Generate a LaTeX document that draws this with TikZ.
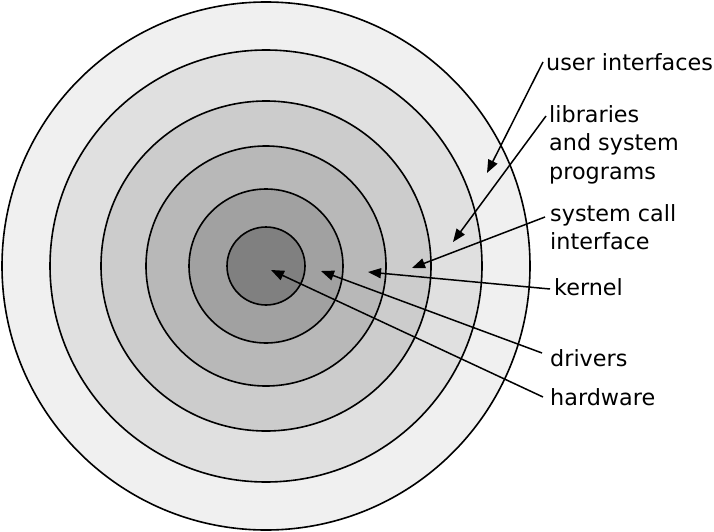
\documentclass[tikz,border=0pt]{standalone}
\usepackage{fontspec}
\setmainfont{DejaVu Sans}
\usetikzlibrary{arrows.meta}

\definecolor{ringA}{gray}{0.94}
\definecolor{ringB}{gray}{0.88}
\definecolor{ringC}{gray}{0.80}
\definecolor{ringD}{gray}{0.72}
\definecolor{ringE}{gray}{0.63}
\definecolor{ringF}{gray}{0.50}

\tikzset{
	ring/.style={draw=black, line width=1.6pt},
	lbl/.style={anchor=west, inner sep=0pt, align=left, font=\fontsize{22.3}{28.5}\selectfont},
	pointer/.style={line width=1.5pt, -{Triangle[length=13pt,width=10pt]}}
}

\begin{document}
\begin{tikzpicture}[x=1pt, y=-1pt]
	\useasboundingbox (0,0) rectangle (714,532);
	% layers, outside in
	\foreach \r/\c in {264/ringA, 216/ringB, 165/ringC, 120/ringD, 77/ringE, 39/ringF}
		\draw[ring, fill=\c] (266,266) circle (\r);

	% where the arrows point
	\coordinate (pUi)   at (487,173);
	\coordinate (pLib)  at (453,242);
	\coordinate (pSys)  at (412,268);
	\coordinate (pKern) at (368,272);
	\coordinate (pDrv)  at (321,271);
	\coordinate (pHw)   at (271,270);

	% labels
	\node[lbl] (ui)   at (546,62)  {user interfaces};
	\node[lbl, anchor=north west] (lib) at (549,105) {libraries\\and system\\programs};
	\node[lbl, anchor=north west] (sys) at (550,204) {system call\\interface};
	\node[lbl] (kern) at (554,287) {kernel};
	\node[lbl] (drv)  at (550,358) {drivers};
	\node[lbl] (hw)   at (550,397) {hardware};

	\draw[pointer] ([xshift=-3pt]ui.west) -- (pUi);
	\draw[pointer] ([xshift=-3pt, yshift=-11pt]lib.north west) -- (pLib);
	\draw[pointer] ([xshift=-5pt, yshift=-13pt]sys.north west) -- (pSys);
	\draw[pointer] ([xshift=-4pt, yshift=-2pt]kern.west) -- (pKern);
	\draw[pointer] ([xshift=-8pt, yshift=5pt]drv.west) -- (pDrv);
	\draw[pointer] ([xshift=-7pt]hw.west) -- (pHw);
\end{tikzpicture}
\end{document}
